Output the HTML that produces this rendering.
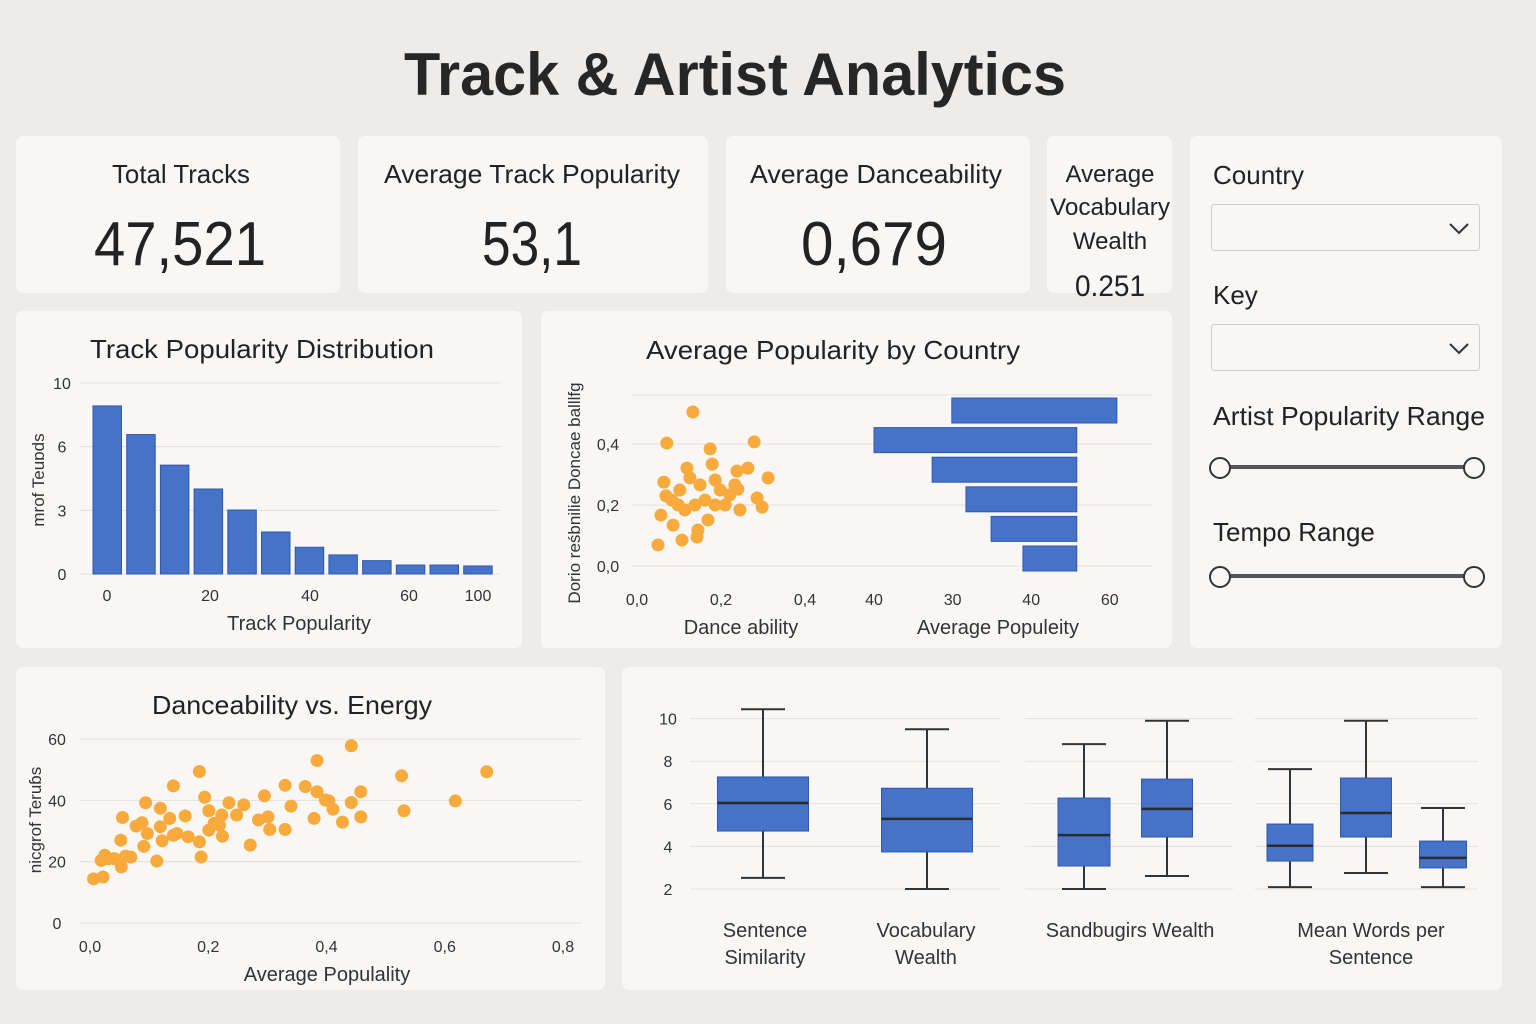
<!DOCTYPE html>
<html><head><meta charset="utf-8"><style>
html,body{margin:0;padding:0;background:#eeecea;}
svg{display:block;font-family:"Liberation Sans",sans-serif;}
</style></head><body>
<svg id="root" width="1536" height="1024" viewBox="0 0 1536 1024" xmlns="http://www.w3.org/2000/svg">
<rect x="0" y="0" width="1536" height="1024" fill="#eeecea"/>
<text x="735" y="95" text-anchor="middle" font-size="60" font-weight="bold" fill="#262626" textLength="662" lengthAdjust="spacingAndGlyphs">Track &amp; Artist Analytics</text>

<g>
<rect x="16" y="136" width="324" height="157" rx="7" fill="#f8f7f5"/>
<text x="181" y="183" text-anchor="middle" font-size="26" fill="#222" textLength="138" lengthAdjust="spacingAndGlyphs">Total Tracks</text>
<text x="180" y="265" text-anchor="middle" font-size="62" fill="#222" textLength="172" lengthAdjust="spacingAndGlyphs">47,521</text>
</g>
<g>
<rect x="358" y="136" width="350" height="157" rx="7" fill="#f8f7f5"/>
<text x="532" y="183" text-anchor="middle" font-size="26" fill="#222" textLength="296" lengthAdjust="spacingAndGlyphs">Average Track Popularity</text>
<text x="532" y="265" text-anchor="middle" font-size="62" fill="#222" textLength="100" lengthAdjust="spacingAndGlyphs">53,1</text>
</g>
<g>
<rect x="726" y="136" width="304" height="157" rx="7" fill="#f8f7f5"/>
<text x="876" y="183" text-anchor="middle" font-size="26" fill="#222" textLength="252" lengthAdjust="spacingAndGlyphs">Average Danceability</text>
<text x="874" y="265" text-anchor="middle" font-size="62" fill="#222" textLength="146" lengthAdjust="spacingAndGlyphs">0,679</text>
</g>
<g>
<rect x="1047" y="136" width="125" height="157" rx="7" fill="#f8f7f5"/>
<text x="1110" y="182" text-anchor="middle" font-size="24" fill="#222">Average</text>
<text x="1110" y="215" text-anchor="middle" font-size="24" fill="#222" textLength="120" lengthAdjust="spacingAndGlyphs">Vocabulary</text>
<text x="1110" y="249" text-anchor="middle" font-size="24" fill="#222">Wealth</text>
<text x="1110" y="296" text-anchor="middle" font-size="30" fill="#222" textLength="70" lengthAdjust="spacingAndGlyphs">0.251</text>
</g>

<g>
<rect x="1190" y="136" width="312" height="512" rx="7" fill="#f8f7f5"/>
<text x="1213" y="184" font-size="26" fill="#222">Country</text>
<g>
<rect x="1211.5" y="204.5" width="268" height="46" rx="3" fill="#f8f7f5" stroke="#cfcdca"/>
<path d="M1450 224 L1459 233 L1468 224" fill="none" stroke="#333" stroke-width="2"/>
</g>
<text x="1213" y="304" font-size="26" fill="#222">Key</text>
<g>
<rect x="1211.5" y="324.5" width="268" height="46" rx="3" fill="#f8f7f5" stroke="#cfcdca"/>
<path d="M1450 344 L1459 353 L1468 344" fill="none" stroke="#333" stroke-width="2"/>
</g>
<text x="1213" y="425" font-size="26" fill="#222" textLength="272" lengthAdjust="spacingAndGlyphs">Artist Popularity Range</text>
<g>
<line x1="1220" y1="467" x2="1474" y2="467" stroke="#555" stroke-width="4"/>
<circle cx="1220" cy="468" r="10" fill="#f8f7f5" stroke="#333" stroke-width="2"/>
<circle cx="1474" cy="468" r="10" fill="#f8f7f5" stroke="#333" stroke-width="2"/>
</g>
<text x="1213" y="541" font-size="26" fill="#222">Tempo Range</text>
<g>
<line x1="1220" y1="576" x2="1474" y2="576" stroke="#555" stroke-width="4"/>
<circle cx="1220" cy="577" r="10" fill="#f8f7f5" stroke="#333" stroke-width="2"/>
<circle cx="1474" cy="577" r="10" fill="#f8f7f5" stroke="#333" stroke-width="2"/>
</g>
</g>

<g id="hist">
<rect x="16" y="311" width="506" height="337" rx="7" fill="#f8f7f5"/>
<text x="262" y="358" text-anchor="middle" font-size="26" fill="#222" textLength="344" lengthAdjust="spacingAndGlyphs">Track Popularity Distribution</text>
<text x="299" y="630" text-anchor="middle" font-size="20" fill="#333">Track Popularity</text>
<text transform="translate(44,480) rotate(-90)" text-anchor="middle" font-size="17" fill="#333">mrof Teuɒds</text>
</g>

<g id="country">
<rect x="541" y="311" width="631" height="337" rx="7" fill="#f8f7f5"/>
<text x="833" y="359" text-anchor="middle" font-size="26" fill="#222" textLength="374" lengthAdjust="spacingAndGlyphs">Average Popularity by Country</text>
<text x="741" y="634" text-anchor="middle" font-size="20" fill="#333">Dance ability</text>
<text x="998" y="634" text-anchor="middle" font-size="20" fill="#333">Average Populeity</text>
<text transform="translate(580,493) rotate(-90)" text-anchor="middle" font-size="17" fill="#333">Dorio reśbnilie Doncae balllfg</text>
</g>

<g id="scatter">
<rect x="16" y="667" width="589" height="323" rx="7" fill="#f8f7f5"/>
<text x="292" y="714" text-anchor="middle" font-size="26" fill="#222" textLength="280" lengthAdjust="spacingAndGlyphs">Danceability vs. Energy</text>
<text x="327" y="981" text-anchor="middle" font-size="20" fill="#333">Average Populality</text>
<text transform="translate(41,820) rotate(-90)" text-anchor="middle" font-size="17" fill="#333">nicɡrof Teruɓs</text>
</g>

<g id="box">
<rect x="622" y="667" width="880" height="323" rx="7" fill="#f8f7f5"/>
</g>

<script>
// ---------- Histogram data ----------
const histBins = ['0-8','8-16','16-24','24-32','32-40','40-48','48-56','56-64','64-72','72-80','80-90','90-100'];
const histCounts = [8.8, 7.3, 5.7, 4.45, 3.35, 2.2, 1.4, 1.0, 0.7, 0.47, 0.47, 0.42];
const histYTickLabels = ['0','3','6','10'];
const histXTickLabels = ['0','20','40','60','100'];

// ---------- Country chart data ----------
const danceX = [0.133,0.071,0.174,0.279,0.119,0.179,0.238,0.312,0.264,0.064,0.240,0.286,0.298,0.245,0.069,0.083,0.102,0.150,0.198,0.221,0.162,0.138,0.186,0.114,0.169,0.145,0.057,0.086,0.107,0.143,0.050,0.210,0.126,0.186,0.098,0.233];
const danceY = [0.505,0.403,0.384,0.407,0.321,0.334,0.311,0.289,0.321,0.275,0.252,0.223,0.193,0.184,0.230,0.216,0.249,0.266,0.249,0.233,0.216,0.200,0.200,0.184,0.151,0.118,0.167,0.134,0.085,0.095,0.069,0.200,0.289,0.282,0.200,0.266];
const danceYTickLabels = ['0,0','0,2','0,4'];
const danceYTickValues = [0,0.2,0.4];
const danceXTickLabels = ['0,0','0,2','0,4'];
const danceXTickValues = [0,0.2,0.4];
const countries = ['US','UK','DE','BR','JP','FR'];
const countryStart = [19.8, 0, 14.8, 23.4, 29.8, 37.9];
const countryEnd = [61.8, 51.6, 51.6, 51.6, 51.6, 51.6];
const popXTickLabels = ['40','30','40','60'];

// ---------- Scatter data ----------
const energyX = [0.006,0.022,0.019,0.025,0.031,0.041,0.053,0.052,0.060,0.069,0.055,0.078,0.088,0.094,0.097,0.091,0.113,0.119,0.119,0.122,0.135,0.141,0.141,0.147,0.161,0.166,0.185,0.185,0.188,0.194,0.201,0.201,0.210,0.219,0.223,0.224,0.235,0.248,0.260,0.271,0.285,0.295,0.301,0.304,0.330,0.330,0.340,0.364,0.379,0.384,0.384,0.398,0.404,0.411,0.427,0.442,0.442,0.458,0.458,0.527,0.531,0.618,0.671];
const energyY = [14.4,15.0,20.4,22.1,21.0,21.0,18.3,27.0,21.8,21.5,34.4,31.6,32.7,39.2,29.2,25.0,20.2,37.4,31.4,26.8,34.1,44.7,28.6,29.2,34.9,28.1,49.4,26.5,21.5,41.0,36.6,30.3,32.5,31.9,35.2,28.3,39.2,35.2,38.5,25.4,33.6,41.5,34.6,30.5,44.9,30.5,38.1,44.5,34.1,53.0,42.8,40.1,39.8,37.1,32.9,57.8,39.3,42.8,34.6,48.0,36.6,39.8,49.3];
const scatterYTicks = [0,20,40,60];
const scatterXTicks = [0,0.2,0.4,0.6,0.8];
const scatterXTickLabels = ['0,0','0,2','0,4','0,6','0,8'];

// ---------- Box plot data ----------
const boxCenters = [763, 927, 1084, 1167, 1290, 1366, 1443];
const boxWhiskerHigh = [10.44, 9.5, 8.8, 9.9, 7.63, 9.9, 5.8];
const boxQ3 = [7.26, 6.73, 6.27, 7.16, 5.05, 7.21, 4.25];
const boxMedian = [6.04, 5.29, 4.53, 5.76, 4.03, 5.57, 3.46];
const boxQ1 = [4.72, 3.74, 3.08, 4.44, 3.31, 4.44, 2.99];
const boxWhiskerLow = [2.52, 2.0, 2.0, 2.61, 2.09, 2.75, 2.09];
const boxYTicks = [2,4,6,8,10];

const NS = 'http://www.w3.org/2000/svg';
function mk(parent, tag, attrs, txt){
  const el = document.createElementNS(NS, tag);
  for (const k in attrs) el.setAttribute(k, attrs[k]);
  if (txt !== undefined) el.textContent = txt;
  parent.appendChild(el);
  return el;
}
const BLUE = '#4673c8', BLUE_S = '#2f58b0', ORANGE = '#f9aa3c';

// ---------- Histogram ----------
(function(){
  const g = document.getElementById('hist');
  const y = v => 574 - v * 19.1;
  const x0 = 93, step = 33.7, bw = 28.5;
  histYTickLabels.forEach((lab, i) => {
    const py = 574 - i * (574 - 383) / (histYTickLabels.length - 1);
    const ln = mk(g, 'line', {x1: 80, x2: 500, y1: py, y2: py, stroke: '#e2e0dd', 'stroke-width': 1});
    
    
    const t = mk(g, 'text', {x: 62, y: py + 6, 'text-anchor': 'middle', 'font-size': 16, fill: '#333'}, lab);
    
    
  });
  const xlPos = [107, 210, 310, 409, 478];
  histXTickLabels.forEach((lab, i) => {
    const t = mk(g, 'text', {x: xlPos[i], y: 601, 'text-anchor': 'middle', 'font-size': 16, fill: '#333'}, lab);
    
    
  });
  histCounts.forEach((v, i) => {
    const r = mk(g, 'rect', {x: x0 + i * step, y: y(v), width: bw, height: 574 - y(v), fill: BLUE, stroke: BLUE_S, 'stroke-width': 1});
    
    
  });
})();

// ---------- Country chart ----------
(function(){
  const g = document.getElementById('country');
  const sx = v => 637 + v * 420;
  const sy = v => 566 - v * 305;
  [395, 444, 505, 566].forEach(py => {
    const ln = mk(g, 'line', {x1: 632, x2: 1152, y1: py, y2: py, stroke: '#e2e0dd', 'stroke-width': 1});
    
    
  });
  danceYTickLabels.forEach((lab, i) => {
    const t = mk(g, 'text', {x: 608, y: sy(danceYTickValues[i]) + 6, 'text-anchor': 'middle', 'font-size': 16, fill: '#333'}, lab);
    
    
  });
  danceXTickLabels.forEach((lab, i) => {
    const t = mk(g, 'text', {x: sx(danceXTickValues[i]), y: 605, 'text-anchor': 'middle', 'font-size': 16, fill: '#333'}, lab);
    
    
  });
  danceX.forEach((v, i) => {
    const c = mk(g, 'circle', {cx: sx(v), cy: sy(danceY[i]), r: 6.5, fill: ORANGE});
    
    
  });
  const px = v => 874 + v * 3.93;
  popXTickLabels.forEach((lab, i) => {
    const t = mk(g, 'text', {x: px(i * 20), y: 605, 'text-anchor': 'middle', 'font-size': 16, fill: '#333'}, lab);
    
    
  });
  countries.forEach((c, i) => {
    const top = 398 + i * 29.6;
    const r = mk(g, 'rect', {x: px(countryStart[i]), y: top, width: px(countryEnd[i]) - px(countryStart[i]), height: 25, fill: BLUE, stroke: BLUE_S, 'stroke-width': 1});
    
    
  });
})();

// ---------- Scatter ----------
(function(){
  const g = document.getElementById('scatter');
  const sx = v => 90 + v * 591.25;
  const sy = v => 923 - v * 3.067;
  scatterYTicks.forEach(v => {
    const ln = mk(g, 'line', {x1: 80, x2: 582, y1: sy(v), y2: sy(v), stroke: '#e2e0dd', 'stroke-width': 1});
    
    
    const t = mk(g, 'text', {x: 57, y: sy(v) + 6, 'text-anchor': 'middle', 'font-size': 16, fill: '#333'}, String(v));
    
    
  });
  scatterXTicks.forEach((v, i) => {
    const t = mk(g, 'text', {x: sx(v), y: 952, 'text-anchor': 'middle', 'font-size': 16, fill: '#333'}, scatterXTickLabels[i]);
    
    
  });
  energyX.forEach((v, i) => {
    const c = mk(g, 'circle', {cx: sx(v), cy: sy(energyY[i]), r: 6.5, fill: ORANGE});
    
    
  });
})();

// ---------- Box plots ----------
(function(){
  const g = document.getElementById('box');
  const sy = v => 889 - (v - 2) * 21.3;
  const segs = [[690, 1000], [1025, 1233], [1255, 1478]];
  boxYTicks.forEach(v => {
    segs.forEach(s => {
      const ln = mk(g, 'line', {x1: s[0], x2: s[1], y1: sy(v), y2: sy(v), stroke: '#e4e2df', 'stroke-width': 1});
      
      
    });
    const t = mk(g, 'text', {x: 668, y: sy(v) + 6, 'text-anchor': 'middle', 'font-size': 16, fill: '#333'}, String(v));
    
    
  });
  const widths = [91, 91, 52, 51, 46, 51, 47];
  boxCenters.forEach((cx, i) => {
    const w = widths[i];
    const grp = mk(g, 'g', {});
    
    
    const st = {stroke: '#333', 'stroke-width': 2};
    mk(grp, 'line', Object.assign({x1: cx, x2: cx, y1: sy(boxWhiskerHigh[i]), y2: sy(boxWhiskerLow[i])}, st));
    mk(grp, 'line', Object.assign({x1: cx - 22, x2: cx + 22, y1: sy(boxWhiskerHigh[i]), y2: sy(boxWhiskerHigh[i])}, st));
    mk(grp, 'line', Object.assign({x1: cx - 22, x2: cx + 22, y1: sy(boxWhiskerLow[i]), y2: sy(boxWhiskerLow[i])}, st));
    mk(grp, 'rect', {x: cx - w / 2, y: sy(boxQ3[i]), width: w, height: sy(boxQ1[i]) - sy(boxQ3[i]), fill: BLUE, stroke: BLUE_S, 'stroke-width': 1});
    mk(grp, 'line', {x1: cx - w / 2, x2: cx + w / 2, y1: sy(boxMedian[i]), y2: sy(boxMedian[i]), stroke: '#2b2b2b', 'stroke-width': 2.5});
  });
  const labels = [[765, ['Sentence', 'Similarity']], [926, ['Vocabulary', 'Wealth']], [1130, ['Sandbugirs Wealth']], [1371, ['Mean Words per', 'Sentence']]];
  labels.forEach(l => {
    l[1].forEach((line, j) => {
      const t = mk(g, 'text', {x: l[0], y: 937 + j * 27, 'text-anchor': 'middle', 'font-size': 20, fill: '#333'}, line);
      
      
    });
  });
})();
</script>
</svg>
</body></html>
